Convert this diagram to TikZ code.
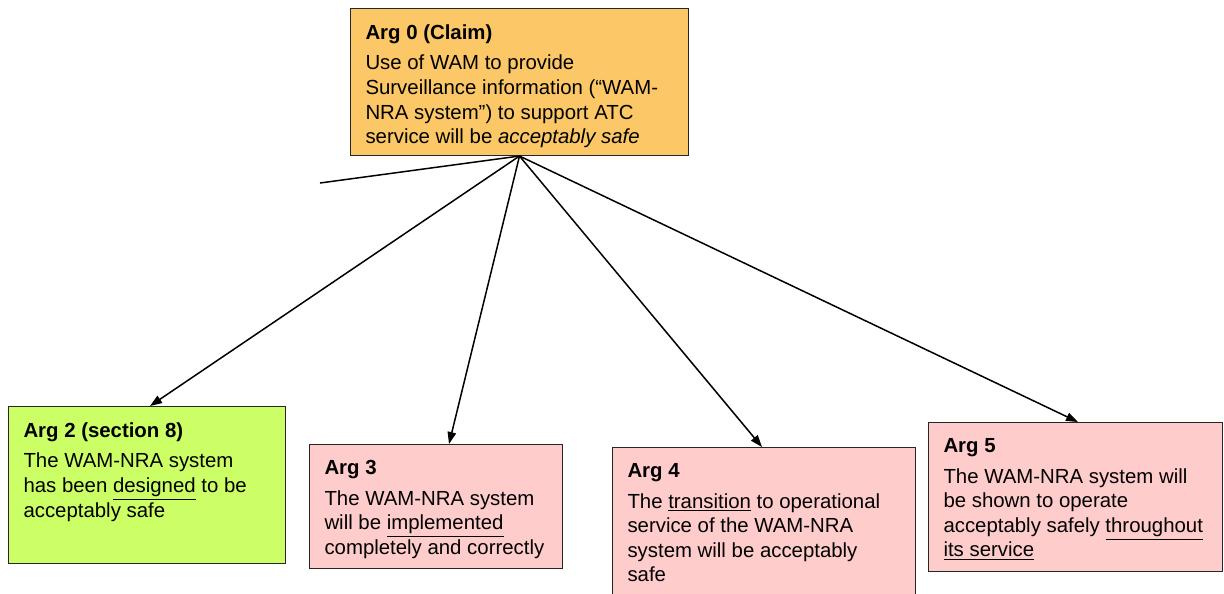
\documentclass[tikz,border=0pt]{standalone}
\usepackage{fontspec}
\setmainfont{Liberation Sans}
\usetikzlibrary{arrows.meta,calc}
\definecolor{claimorange}{HTML}{FBC767}
\definecolor{argreen}{HTML}{CCFF66}
\definecolor{argpink}{HTML}{FFCCCC}
\begin{document}
\begin{tikzpicture}[x=0.02cm,y=-0.02cm]

      \tikzset{argbox/.style={draw=black!85, line width=0.6pt, anchor=north west, inner xsep=0.3cm, inner ysep=0.32cm, font=\fontsize{11.6}{14}\selectfont},
               support/.style={line width=0.85pt, -{Triangle[length=0.24cm,width=0.17cm]}}}
      \useasboundingbox (0,0) rectangle (1224,593);
%% Boxes
      \node[argbox, fill=claimorange] (arg0) at (350,8) {\parbox[t][2.30cm][t]{6.16cm}{\raggedright\textbf{Arg 0 (Claim)}\\[3.4pt]
            Use of WAM to provide\\ Surveillance information (``WAM-\\ NRA system'') to support ATC\\ service will be \textit{acceptably safe}}};
      \node[argbox, fill=argreen] (arg2) at (8,406) {\parbox[t][2.50cm][t]{4.94cm}{\raggedright\textbf{Arg 2 (section 8)}\\[3.4pt]
            The WAM-NRA system\\ has been \underline{designed} to be\\ acceptably safe}};
      \node[argbox, fill=argpink] (arg3) at (309,444) {\parbox[t][1.84cm][t]{4.46cm}{\raggedright\textbf{Arg 3}\\[3.4pt]
            The WAM-NRA system\\ will be \underline{implemented}\\ completely and correctly}};
      \node[argbox, fill=argpink] (arg4) at (612,447) {\parbox[t][2.56cm][t]{5.46cm}{\raggedright\textbf{Arg 4}\\[3.4pt]
            The \underline{transition} to operational\\ service of the WAM-NRA\\ system will be acceptably\\ safe}};
      \node[argbox, fill=argpink] (arg5) at (928,422) {\parbox[t][2.34cm][t]{5.28cm}{\raggedright\textbf{Arg 5}\\[3.4pt]
            The WAM-NRA system will\\ be shown to operate\\ acceptably safely \underline{throughout}\\ \underline{its service}}};
      \coordinate (loose) at (320,183);
%Links
      \draw[line width=0.85pt] (arg0.south) -- (loose);
      \draw[support] (arg0.south) -- ($(arg2.north west)+(142,0)$);
      \draw[support] (arg0.south) -- ($(arg3.north west)+(140,0)$);
      \draw[support] (arg0.south) -- ($(arg4.north west)+(150,0)$);
      \draw[support] (arg0.south) -- ($(arg5.north west)+(150,0)$);

\end{tikzpicture}
\end{document}
